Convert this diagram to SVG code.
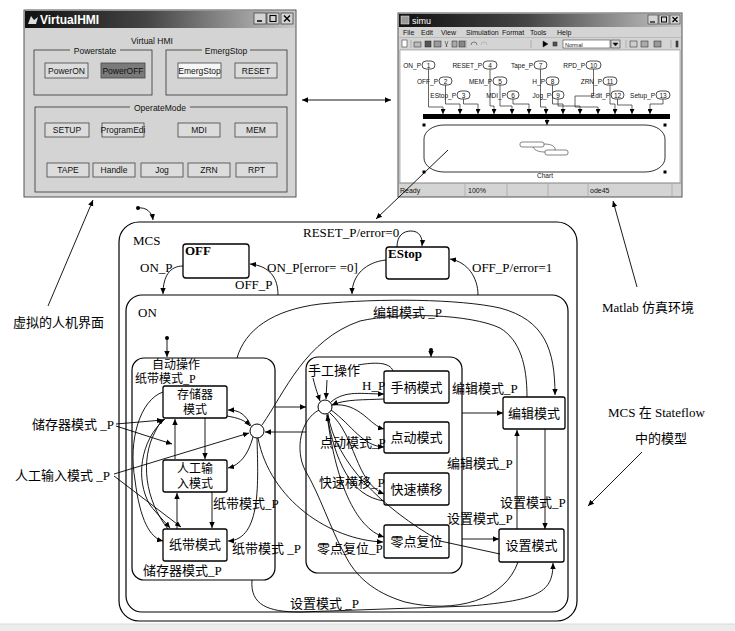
<svg xmlns="http://www.w3.org/2000/svg" width="735" height="631" viewBox="0 0 735 631">
<defs>
<linearGradient id="tb" x1="0" y1="0" x2="1" y2="0"><stop offset="0" stop-color="#111"/><stop offset="0.45" stop-color="#444"/><stop offset="1" stop-color="#c8c8c8"/></linearGradient>
<marker id="a" viewBox="0 0 10 10" refX="10" refY="5" markerWidth="6" markerHeight="6" markerUnits="userSpaceOnUse" orient="auto-start-reverse"><path d="M0,0.5 L10,5 L0,9.5 z" fill="#000"/></marker>
<marker id="s" viewBox="0 0 10 10" refX="10" refY="5" markerWidth="5" markerHeight="5" markerUnits="userSpaceOnUse" orient="auto"><path d="M0,0 L10,5 L0,10 z" fill="#000"/></marker>
</defs>
<style>
.win{fill:#d4d4d4;stroke:#555;stroke-width:1}
.btn{fill:#dcdcdc;stroke:#444;stroke-width:0.8}
.fr{fill:none;stroke:#333;stroke-width:0.8}
.ui{font-family:"Liberation Sans",Arial,sans-serif;font-size:8.5px;fill:#111;text-anchor:middle}
.sm{font-family:"Liberation Sans",Arial,sans-serif;font-size:6.5px;fill:#111}
.ov{fill:#fff;stroke:#222;stroke-width:0.8}
.w{fill:none;stroke:#222;stroke-width:0.7;marker-end:url(#s)}
.st{fill:#fff;stroke:#000;stroke-width:1.3}
.box{fill:none;stroke:#000;stroke-width:1.2}
.c{fill:none;stroke:#000;stroke-width:0.9}
.ca{fill:none;stroke:#000;stroke-width:0.9;marker-end:url(#a)}
.t{font-family:"Liberation Serif","Noto Sans CJK SC",serif;font-size:13px;fill:#000}
.t2{font-size:12px}
.mid{text-anchor:middle}
.b{font-weight:bold}
</style>
<rect width="735" height="631" fill="#fff"/>
<rect x="0" y="624" width="735" height="7" fill="#ececec"/>
<line x1="0" y1="624" x2="735" y2="624" stroke="#d8d8d8"/>

<!-- VirtualHMI window -->
<g id="virtualhmi">
<rect class="win" x="24" y="10" width="272" height="187"/>
<rect x="25" y="11" width="270" height="17" fill="url(#tb)"/>
<path d="M28,24 l3,-8 l3,4 l4,-3 l-2,7 z" fill="#ddd"/>
<text x="40" y="24" font-family="Liberation Sans,Arial,sans-serif" font-weight="bold" font-size="12" fill="#fff">VirtualHMI</text>
<rect x="254" y="13" width="12" height="11" fill="#d4d4d4" stroke="#333" stroke-width="0.7"/>
<rect x="267" y="13" width="12" height="11" fill="#d4d4d4" stroke="#333" stroke-width="0.7"/>
<rect x="281" y="13" width="12" height="11" fill="#d4d4d4" stroke="#333" stroke-width="0.7"/>
<line x1="257" y1="21" x2="262" y2="21" stroke="#000" stroke-width="1.5"/>
<rect x="270" y="15.5" width="6" height="6" fill="none" stroke="#000" stroke-width="1.1"/>
<path d="M284,15.5 l6,6 M290,15.5 l-6,6" stroke="#000" stroke-width="1.4"/>
<text class="ui" x="152" y="44" font-size="10">Virtual HMI</text>
<rect class="fr" x="34" y="50" width="118" height="45"/>
<rect x="70" y="46" width="50" height="8" fill="#d4d4d4"/>
<text class="ui" x="95" y="54">Powerstate</text>
<rect class="fr" x="166" y="50" width="121" height="45"/>
<rect x="202" y="46" width="48" height="8" fill="#d4d4d4"/>
<text class="ui" x="226" y="54">EmergStop</text>
<rect class="fr" x="35" y="107" width="252" height="85"/>
<rect x="130" y="103" width="60" height="8" fill="#d4d4d4"/>
<text class="ui" x="160" y="111">OperateMode</text>
<rect class="btn" x="45" y="63" width="43" height="15"/><text class="ui" x="66.5" y="73.5">PowerON</text>
<rect class="btn" x="101" y="63" width="44" height="15" style="fill:#7a7a7a"/><text class="ui" x="123" y="73.5">PowerOFF</text>
<rect class="btn" x="178" y="63" width="43" height="15" style="fill:#f6f6f6"/><text class="ui" x="199.5" y="73.5">EmergStop</text>
<rect class="btn" x="235" y="63" width="42" height="15"/><text class="ui" x="256" y="73.5">RESET</text>
<rect class="btn" x="45" y="123" width="44" height="14"/><text class="ui" x="67" y="133">SETUP</text>
<rect class="btn" x="102" y="123" width="42" height="14"/><text class="ui" x="123" y="133">ProgramEdi</text>
<rect class="btn" x="178" y="123" width="42" height="14"/><text class="ui" x="199" y="133">MDI</text>
<rect class="btn" x="235" y="123" width="42" height="14"/><text class="ui" x="256" y="133">MEM</text>
<rect class="btn" x="47" y="163" width="42" height="14"/><text class="ui" x="68" y="173">TAPE</text>
<rect class="btn" x="93" y="163" width="42" height="14"/><text class="ui" x="114" y="173">Handle</text>
<rect class="btn" x="141" y="163" width="42" height="14"/><text class="ui" x="162" y="173">Jog</text>
<rect class="btn" x="188" y="163" width="42" height="14"/><text class="ui" x="209" y="173">ZRN</text>
<rect class="btn" x="236" y="163" width="41" height="14"/><text class="ui" x="256.5" y="173">RPT</text>
</g>

<!-- simu window -->
<g id="simu">
<rect class="win" x="398" y="13" width="284" height="184"/>
<rect x="399" y="14" width="282" height="13" fill="url(#tb)"/>
<rect x="401" y="16" width="8" height="8" fill="#999" stroke="#eee" stroke-width="0.5"/>
<text x="412" y="24" font-family="Liberation Sans,Arial,sans-serif" font-size="9" fill="#fff">simu</text>
<rect x="648" y="15" width="10" height="9" fill="#d4d4d4" stroke="#333" stroke-width="0.6"/>
<rect x="659" y="15" width="10" height="9" fill="#d4d4d4" stroke="#333" stroke-width="0.6"/>
<rect x="670" y="15" width="10" height="9" fill="#d4d4d4" stroke="#333" stroke-width="0.6"/>
<line x1="650" y1="22" x2="655" y2="22" stroke="#000" stroke-width="1.2"/>
<rect x="661.5" y="17" width="5" height="5" fill="none" stroke="#000"/>
<path d="M672.5,17 l5,5 M677.5,17 l-5,5" stroke="#000" stroke-width="1.2"/>
<g font-family="Liberation Sans,Arial,sans-serif" font-size="7" fill="#111">
<text x="403" y="35">File</text><text x="421" y="35">Edit</text><text x="441" y="35">View</text><text x="466" y="35">Simulation</text><text x="502" y="35">Format</text><text x="530" y="35">Tools</text><text x="557" y="35">Help</text>
</g>
<line x1="399" y1="37.5" x2="681" y2="37.5" stroke="#aaa" stroke-width="0.6"/>
<g fill="#555" stroke="#222" stroke-width="0.5">
<rect x="402" y="40" width="5" height="7" fill="#fff"/>
<path d="M411,40 v8 M466,40 v8 M531,40 v8 M626,40 v8 M671,40 v8" stroke="#888"/>
<rect x="414" y="42" width="7" height="5" fill="#bbb"/>
<rect x="425" y="41" width="6" height="6"/>
<rect x="434" y="41" width="7" height="6" fill="#999"/>
<path d="M445,41 l2,6 M448,41 l-2,6" fill="none"/>
<rect x="452" y="41" width="5" height="6" fill="#aaa"/>
<rect x="459" y="41" width="6" height="6" fill="#888"/>
<path d="M471,45 a3,3 0 1,1 6,0" fill="none"/>
<path d="M481,45 a3,3 0 1,1 6,0" fill="none" stroke="#999"/>
<path d="M543,41 l5,3 l-5,3 z" fill="#000"/>
<rect x="553" y="42" width="4" height="4" fill="#555"/>
<rect x="563" y="40" width="47" height="8" fill="#fff"/>
<rect x="611" y="40" width="9" height="8" fill="#d4d4d4"/>
<path d="M613,43 l2.5,3 l2.5,-3 z" fill="#000"/>
<rect x="630" y="41" width="7" height="6" fill="#ccc"/>
<rect x="641" y="41" width="7" height="6" fill="#aaa"/>
<rect x="654" y="41" width="7" height="6" fill="#999"/>
<rect x="676" y="41" width="2" height="6" fill="#444"/>
</g>
<text x="565" y="46.5" font-family="Liberation Sans,Arial,sans-serif" font-size="5.5" fill="#222">Normal</text>
<rect x="400" y="50" width="280" height="133" fill="#fff" stroke="#888" stroke-width="0.6"/>
<g class="sm">
<text x="421" y="68" text-anchor="end">ON_P</text>
<text x="482" y="68" text-anchor="end">RESET_P</text>
<text x="533" y="68" text-anchor="end">Tape_P</text>
<text x="585" y="68" text-anchor="end">RPD_P</text>
<text x="438" y="84" text-anchor="end">OFF_P</text>
<text x="492" y="84" text-anchor="end">MEM_P</text>
<text x="545" y="84" text-anchor="end">H_P</text>
<text x="602" y="84" text-anchor="end">ZRN_P</text>
<text x="456" y="98" text-anchor="end">EStop_P</text>
<text x="506" y="98" text-anchor="end">MDI_P</text>
<text x="551" y="98" text-anchor="end">Jog_P</text>
<text x="610" y="98" text-anchor="end">Edit_P</text>
<text x="655" y="98" text-anchor="end">Setup_P</text>
</g>
<g>
<rect class="ov" x="422" y="61" width="13" height="8" rx="4"/>
<rect class="ov" x="483" y="61" width="14" height="8" rx="4"/>
<rect class="ov" x="534" y="61" width="13" height="8" rx="4"/>
<rect class="ov" x="586" y="61" width="15" height="8" rx="4"/>
<rect class="ov" x="439" y="77" width="13" height="8" rx="4"/>
<rect class="ov" x="493" y="77" width="14" height="8" rx="4"/>
<rect class="ov" x="546" y="77" width="13" height="8" rx="4"/>
<rect class="ov" x="603" y="77" width="14" height="8" rx="4"/>
<rect class="ov" x="457" y="91" width="13" height="8" rx="4"/>
<rect class="ov" x="507" y="91" width="12" height="8" rx="4"/>
<rect class="ov" x="552" y="91" width="12" height="8" rx="4"/>
<rect class="ov" x="611" y="91" width="13" height="8" rx="4"/>
<rect class="ov" x="656" y="91" width="14" height="8" rx="4"/>
</g>
<g class="sm" text-anchor="middle" font-size="6">
<text x="428.5" y="67.5">1</text><text x="490" y="67.5">4</text><text x="540.5" y="67.5">7</text><text x="593.5" y="67.5">10</text>
<text x="445.5" y="83.5">2</text><text x="500" y="83.5">5</text><text x="552.5" y="83.5">8</text><text x="610" y="83.5">11</text>
<text x="463.5" y="97.5">3</text><text x="513" y="97.5">6</text><text x="558" y="97.5">9</text><text x="617.5" y="97.5">12</text><text x="663" y="97.5">13</text>
</g>
<g>
<path class="w" d="M428.5,69 V107 H443 V114"/>
<path class="w" d="M445.5,85 V104 H460 V114"/>
<path class="w" d="M463.5,99 V104 H478 V114"/>
<path class="w" d="M490,69 V106 H494 V114"/>
<path class="w" d="M500,85 V106 H512 V114"/>
<path class="w" d="M513,99 V104 H529 V114"/>
<path class="w" d="M540.5,69 V107 H546 V114"/>
<path class="w" d="M552.5,85 V104 H563 V114"/>
<path class="w" d="M558,99 V106 H580 V114"/>
<path class="w" d="M593.5,69 V96 H575 V107 H598 V114"/>
<path class="w" d="M610,85 V104 H615 V114"/>
<path class="w" d="M617.5,99 V105 H632 V114"/>
<path class="w" d="M663,99 V104 H650 V114"/>
</g>
<rect x="423" y="114" width="247" height="5" fill="#000"/>
<path class="w" d="M547,119 V125"/>
<rect x="424" y="125" width="241" height="47" rx="20" ry="14" fill="none" stroke="#000" stroke-width="0.8"/>
<g fill="#000"><rect x="422.5" y="123.5" width="3" height="3"/><rect x="663.5" y="123.5" width="3" height="3"/><rect x="422.5" y="170.5" width="3" height="3"/><rect x="663.5" y="170.5" width="3" height="3"/></g>
<rect x="520" y="142" width="24" height="5" rx="2" fill="#fff" stroke="#333" stroke-width="0.6"/>
<rect x="545" y="150" width="23" height="5" rx="2" fill="#fff" stroke="#333" stroke-width="0.6"/>
<path d="M544,144 C552,144 556,147 555,150 M533,147 C535,151 540,152 545,152" fill="none" stroke="#333" stroke-width="0.6"/>
<text x="545" y="178" class="sm" text-anchor="middle">Chart</text>
<line x1="399" y1="183" x2="681" y2="183" stroke="#888" stroke-width="0.6"/>
<path d="M465,184 V196 M507,184 V196 M548,184 V196 M588,184 V196 M672,184 V196" stroke="#999" stroke-width="0.6"/>
<g font-family="Liberation Sans,Arial,sans-serif" font-size="7" fill="#111"><text x="400" y="193">Ready</text><text x="468" y="193">100%</text><text x="590" y="193">ode45</text></g>
</g>

<!-- annotation connectors -->
<g id="annotations">
<line x1="302" y1="100" x2="391" y2="100" stroke="#000" stroke-width="0.9" marker-start="url(#a)" marker-end="url(#a)"/>
<path class="ca" d="M448,150 L376,219"/>
<path class="ca" d="M48,306 L93,200"/>
<path class="ca" d="M637,287 L613,201"/>
<path class="ca" d="M642,452 L588,506"/>
<path class="ca" d="M138,208 C146,207 152,212 153,220"/>
<circle cx="138" cy="208" r="2" fill="#000"/>
</g>
<g id="annotation-labels" class="t">
<text x="13" y="327">虚拟的人机界面</text>
<text x="602" y="312">Matlab 仿真环境</text>
<text x="608" y="417">MCS 在 Stateflow</text>
<text x="635" y="443">中的模型</text>
<text x="32" y="429">储存器模式 _P</text>
<text x="15" y="480">人工输入模式 _P</text>
</g>

<!-- states -->
<g id="MCS"><rect class="box" x="119" y="222" width="458" height="399" rx="20"/><text class="t" x="133" y="245">MCS</text></g>
<g id="OFF"><rect class="st" x="183" y="244" width="66" height="34" rx="3"/><text class="t b" x="185" y="255" font-size="12">OFF</text></g>
<g id="EStop"><rect class="st" x="386" y="247" width="63" height="32" rx="3"/><text class="t b" x="388" y="258" font-size="12">EStop</text></g>
<g id="ON"><rect class="box" x="126" y="295" width="442" height="317" rx="16"/><text class="t" x="138" y="317">ON</text></g>
<g id="auto"><rect class="box" x="132" y="358" width="143" height="222" rx="12"/><text class="t t2" x="152" y="369">自动操作</text><text class="t t2" x="135" y="383">纸带模式_P</text></g>
<g id="mem"><rect class="st" x="163" y="386" width="64" height="32" rx="2"/><text class="t t2 mid" x="195" y="399">存储器</text><text class="t t2 mid" x="195" y="414">模式</text></g>
<g id="mdi"><rect class="st" x="163" y="460" width="64" height="32" rx="2"/><text class="t t2 mid" x="195" y="473">人工输</text><text class="t t2 mid" x="195" y="488">入模式</text></g>
<g id="tape"><rect class="st" x="163" y="529" width="64" height="32" rx="2"/><text class="t mid" x="195" y="549">纸带模式</text></g>
<g id="manual"><rect class="box" x="306" y="357" width="156" height="216" rx="12"/><text class="t" x="308" y="375">手工操作</text></g>
<g id="handle"><rect class="st" x="384" y="371" width="65" height="32" rx="2"/><text class="t mid" x="416.5" y="392">手柄模式</text></g>
<g id="jog"><rect class="st" x="384" y="422" width="65" height="31" rx="2"/><text class="t mid" x="416.5" y="442">点动模式</text></g>
<g id="rapid"><rect class="st" x="384" y="473" width="65" height="32" rx="2"/><text class="t mid" x="416.5" y="494">快速横移</text></g>
<g id="zrn"><rect class="st" x="384" y="525" width="65" height="33" rx="2"/><text class="t mid" x="416.5" y="546">零点复位</text></g>
<g id="edit"><rect class="st" x="503" y="397" width="62" height="32" rx="2"/><text class="t mid" x="534" y="418">编辑模式</text></g>
<g id="setup"><rect class="st" x="499" y="529" width="65" height="33" rx="2"/><text class="t mid" x="531.5" y="550">设置模式</text></g>
<g id="J1"><circle cx="257" cy="431" r="7" fill="#fff" stroke="#000" stroke-width="1"/></g>
<g id="J2"><circle cx="325" cy="407" r="7" fill="#fff" stroke="#000" stroke-width="1"/></g>

<!-- connectors -->
<g id="connectors">
<path class="ca" d="M183,266 C170,266 163,276 163,294"/>
<path class="ca" d="M278,295 C278,278 270,266 250,264"/>
<path class="ca" d="M386,260 C366,262 352,275 352,294"/>
<path class="ca" d="M478,295 C478,278 468,262 450,259"/>
<path class="ca" d="M397,247 C397,236 403,231 411,231 C419,231 423,237 422,246"/>
<path class="ca" d="M237,358 C245,330 272,310 320,304 C380,298 460,299 500,308 C545,320 555,350 555,395"/>
<path class="c" d="M262,425 C285,392 305,340 360,321 C400,312 470,314 500,328 C520,340 527,365 527,397"/>
<path class="ca" d="M167,338 V357"/>
<circle cx="167" cy="338" r="2" fill="#000"/>
<path class="ca" d="M431,350 V357"/>
<circle cx="431" cy="350" r="2" fill="#000"/>
<path class="ca" d="M205,418 V459"/>
<path class="ca" d="M175,459 V419"/>
<path class="ca" d="M212,492 V528"/>
<path class="ca" d="M177,529 V493"/>
<path class="ca" d="M163,392 C140,400 128,440 135,480 C140,520 150,538 163,541"/>
<path class="ca" d="M165,419 C140,440 135,480 150,505 C158,515 165,522 170,528"/>
<path class="ca" d="M168,529 C145,500 140,460 155,432 C158,426 160,422 164,419"/>
<path class="ca" d="M251,426 C246,415 240,410 228,410"/>
<path class="ca" d="M227,416 C238,418 245,420 250,426"/>
<path class="ca" d="M253,437 C248,455 240,465 228,468"/>
<path class="ca" d="M257,438 C258,480 262,540 228,541"/>
<path class="ca" d="M116,424 L163,420"/>
<path class="ca" d="M116,426 L172,444"/>
<path class="ca" d="M114,474 L249,433"/>
<path class="ca" d="M114,476 L181,527"/>
<path class="ca" d="M275,407 H306"/>
<path class="ca" d="M306,432 H265"/>
<path class="ca" d="M258,438 C270,500 330,540 383,542"/>
<path class="ca" d="M313,378 C316,390 318,395 320,401"/>
<path class="ca" d="M327,380 L326,399"/>
<path class="c" d="M358,365 C375,362 390,362 393,371"/>
<path class="ca" d="M331,402 C345,390 362,394 384,394"/>
<path class="ca" d="M384,399 C365,400 345,399 332,405"/>
<path class="ca" d="M332,405 C360,402 370,426 384,429"/>
<path class="ca" d="M331,410 C352,425 362,446 384,447"/>
<path class="ca" d="M330,413 C356,436 355,482 384,494"/>
<path class="ca" d="M384,501 C350,496 335,460 327,415"/>
<path class="ca" d="M327,414 C335,480 355,528 384,537"/>
<path class="c" d="M328,414 C335,462 382,508 440,541 L500,554"/>
<path class="c" d="M319,410 C300,420 295,450 305,470 C320,495 330,528 345,555 C355,575 372,592 405,602 C455,614 505,600 518,562"/>
<path class="ca" d="M252,580 C250,605 268,612 300,612 L470,606 C540,600 553,592 553,563"/>
<path class="ca" d="M462,413 H503"/>
<path class="ca" d="M462,539 H499"/>
<path class="ca" d="M517,529 V430"/>
<path class="ca" d="M545,429 V529"/>
</g>

<!-- transition labels -->
<g id="labels" class="t">
<text x="303" y="237">RESET_P/error=0</text>
<text x="140" y="272">ON_P</text>
<text x="267" y="272">ON_P[error= =0]</text>
<text x="235" y="289">OFF_P</text>
<text x="472" y="272">OFF_P/error=1</text>
<text x="373" y="317">编辑模式 _P</text>
<text x="362" y="390">H_P</text>
<text x="320" y="447">点动模式_P</text>
<text x="319" y="487">快速横移_P</text>
<text x="317" y="553">零点复位_P</text>
<text x="452" y="393">编辑模式_P</text>
<text x="447" y="468">编辑模式_P</text>
<text x="500" y="507">设置模式_P</text>
<text x="447" y="523">设置模式_P</text>
<text x="213" y="508">纸带模式_P</text>
<text x="232" y="553">纸带模式 _P</text>
<text x="143" y="575">储存器模式_P</text>
<text x="290" y="608">设置模式 _P</text>
</g>
</svg>
